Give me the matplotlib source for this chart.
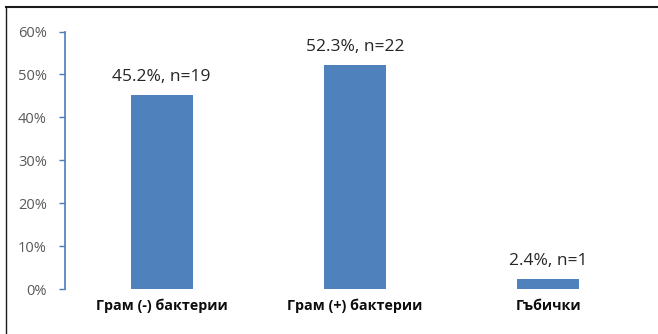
import matplotlib
matplotlib.use("Agg")
import matplotlib.pyplot as plt
from matplotlib.lines import Line2D

categories = ["Грам (-) бактерии", "Грам (+) бактерии", "Гъбички"]
percent = [45.2, 52.3, 2.4]
counts = [19, 22, 1]
y_ticks = [0, 10, 20, 30, 40, 50, 60]

plt.rcParams["font.family"] = ["Open Sans", "DejaVu Sans"]

fig = plt.figure(figsize=(6.58, 3.34), dpi=100)
ax = fig.add_axes([65 / 658, 1 - 289.3 / 334, 580 / 658, (289.3 - 31.5) / 334])

x = list(range(len(categories)))
bars = ax.bar(x, percent, width=0.32, color="#4F81BD", zorder=2)

for xi, p, n in zip(x, percent, counts):
    ax.annotate(f"{p}%, n={n}", (xi, p), xytext=(0, 7), textcoords="offset points",
                ha="center", va="bottom", fontsize=12.5, color="#262626")

ax.set_xlim(-0.5, len(categories) - 0.5)
ax.set_ylim(0, 60)
ax.set_yticks(y_ticks)
ax.set_yticklabels([f"{t}%" for t in y_ticks])
ax.tick_params(axis="y", direction="out", length=4, width=1, color="#4A7EBB",
               labelcolor="#595959", labelsize=10.5, pad=9)
ax.set_xticks(x)
ax.set_xticklabels(categories, fontweight="bold", fontsize=10.3, color="#0D0D0D")
ax.tick_params(axis="x", length=0, pad=7)

for side in ("top", "right", "bottom"):
    ax.spines[side].set_visible(False)
ax.spines["left"].set_color("#4A7EBB")
ax.spines["left"].set_linewidth(1.2)

# thin frame lines along the top and left edges of the figure
fig.add_artist(Line2D([6 / 658, 1], [1 - 7 / 334, 1 - 7 / 334], color="#1a1a1a", lw=1.5,
                      transform=fig.transFigure))
fig.add_artist(Line2D([6 / 658, 6 / 658], [0, 1 - 7 / 334], color="#1a1a1a", lw=1.0,
                      transform=fig.transFigure))

fig.savefig("out.png", dpi=100, facecolor="white")
